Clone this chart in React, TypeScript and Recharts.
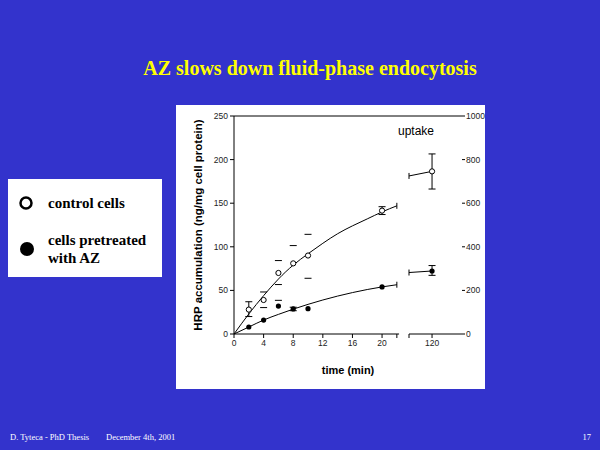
import React from "react";
import {
  ComposedChart,
  ErrorBar,
  Label,
  Line,
  ReferenceLine,
  Scatter,
  XAxis,
  YAxis,
} from "recharts";

// fitted curves, read every 2 min off the picture (left axis units)
const fitTimes = [0, 2, 4, 6, 8, 10, 12, 14, 16, 18, 20, 22];
const controlFit = [0, 23, 44, 63, 79, 92, 104, 115, 124, 132, 140, 147];
const azFit = [0, 8, 16, 22.5, 28.5, 34, 39, 43.5, 47.5, 51, 54, 56.5];

// measured points
const pointTimes = [2, 4, 6, 8, 10, 20];
const controlMeans = [28, 39, 70, 81, 90, 141.5];
const azMeans = [8, 16, 32, 28.7, 29, 54];

// error bars whose stems are visible
const controlBars = [
  { t: 2, v: 28, err: [8, 9] },
  { t: 20, v: 141.5, err: [4.5, 4.5] },
];
const azBars = [{ t: 8, v: 28.7, err: [2, 2] }];

// caps that show without stems
const looseCaps = [
  { t: 4, v: 48.2 },
  { t: 4, v: 30.3 },
  { t: 6, v: 84.2 },
  { t: 6, v: 56.7 },
  { t: 6, v: 38.6 },
  { t: 8, v: 101.4 },
  { t: 10, v: 114.3 },
  { t: 10, v: 63.9 },
];

// the 120 min segment (right axis units)
const breakTimes = [110, 120];
const controlBreak = [725, 746];
const azBreak = [282, 289];
const controlLate = [{ t: 120, v: 746, err: [81, 80] }];
const azLate = [{ t: 120, v: 289, err: [20, 25] }];

const leftTicks = [0, 50, 100, 150, 200, 250];
const rightTicks = [0, 200, 400, 600, 800, 1000];
const timeTicks = [0, 4, 8, 12, 16, 20, 22];

const toRows = (xs: number[], ys: number[]) => xs.map((t, i) => ({ t, v: ys[i] }));

const tickFont = { fontSize: 8.5, fill: "#222", fontFamily: "Liberation Sans" };

const openDot = (p: any) => (
  <circle cx={p.cx} cy={p.cy} r={2.6} fill="#fff" stroke="#000" strokeWidth={1} />
);
const fullDot = (p: any) => <circle cx={p.cx} cy={p.cy} r={2.6} fill="#000" />;
const capShape = (p: any) => (
  <line x1={p.cx - 3.5} x2={p.cx + 3.5} y1={p.cy} y2={p.cy} stroke="#000" strokeWidth={1} />
);
const noShape = () => <g />;

// small vertical bar at one end of a curve (break marks)
const endBar = (which: number) => (p: any) =>
  p.index === which ? (
    <line key={p.index} x1={p.cx} x2={p.cx} y1={p.cy - 3} y2={p.cy + 3} stroke="#000" />
  ) : (
    <g key={p.index} />
  );

export default function App() {
  const lastFit = fitTimes.length - 1;
  return (
    <div
      style={{
        position: "relative",
        width: 600,
        height: 450,
        background: "#3333cc",
        overflow: "hidden",
        fontFamily: "Liberation Serif",
      }}
    >
      <style>{`body{margin:0}`}</style>
      <div
        style={{
          position: "absolute",
          top: 57,
          left: 0,
          width: 620,
          textAlign: "center",
          color: "#ffff00",
          fontWeight: "bold",
          fontSize: 20,
        }}
      >
        AZ slows down fluid-phase endocytosis
      </div>

      {/* legend box */}
      <div
        style={{
          position: "absolute",
          left: 8,
          top: 179,
          width: 154,
          height: 98,
          background: "#fff",
          color: "#000",
          fontWeight: "bold",
          fontSize: 15,
          lineHeight: "18px",
        }}
      >
        <svg width={40} height={98} style={{ position: "absolute", left: 0, top: 0 }}>
          <circle cx={18} cy={24} r={5.5} fill="#fff" stroke="#000" strokeWidth={2.5} />
          <circle cx={19} cy={70} r={7} fill="#000" />
        </svg>
        <div style={{ position: "absolute", left: 40, top: 15 }}>control cells</div>
        <div style={{ position: "absolute", left: 40, top: 52 }}>
          cells pretreated
          <br />
          with AZ
        </div>
      </div>

      {/* chart panel */}
      <div
        style={{
          position: "absolute",
          left: 176,
          top: 105,
          width: 309,
          height: 284,
          background: "#fff",
        }}
      >
        <ComposedChart
          width={309}
          height={284}
          margin={{ top: 11, right: 23, bottom: 25, left: 18 }}
          style={{ position: "absolute", left: 0, top: 0 }}
        >
          <XAxis
            type="number"
            dataKey="t"
            domain={[0, 30.8]}
            ticks={timeTicks}
            interval={0}
            tickFormatter={(v) => (v === 22 ? "" : String(v))}
            axisLine={false}
            tickLine={{ stroke: "#000" }}
            tickSize={4}
            tick={tickFont}
            height={30}
          >
            <Label
              value="time (min)"
              position="insideBottom"
              offset={-10}
              style={{ fontSize: 11, fontWeight: "bold", fill: "#000", fontFamily: "Liberation Sans" }}
            />
          </XAxis>
          <YAxis
            type="number"
            dataKey="v"
            domain={[0, 250]}
            ticks={leftTicks}
            interval={0}
            axisLine={{ stroke: "#000" }}
            tickLine={{ stroke: "#000" }}
            tickSize={4}
            tick={tickFont}
            width={40}
          >
            <Label
              value="HRP accumulation (ng/mg cell protein)"
              angle={-90}
              position="insideLeft"
              offset={4}
              style={{
                fontSize: 11.5,
                fontWeight: "bold",
                fill: "#000",
                fontFamily: "Liberation Sans",
                textAnchor: "middle",
              }}
            />
          </YAxis>
          <ReferenceLine y={250} stroke="#000" />
          <ReferenceLine
            segment={[
              { x: 0, y: 0 },
              { x: 22.3, y: 0 },
            ]}
            stroke="#000"
          />
          <Line
            data={toRows(fitTimes, controlFit)}
            dataKey="v"
            type="natural"
            stroke="#000"
            strokeWidth={1}
            dot={endBar(lastFit)}
            isAnimationActive={false}
          />
          <Line
            data={toRows(fitTimes, azFit)}
            dataKey="v"
            type="natural"
            stroke="#000"
            strokeWidth={1}
            dot={endBar(lastFit)}
            isAnimationActive={false}
          />
          <Scatter data={controlBars} dataKey="v" shape={noShape} isAnimationActive={false}>
            <ErrorBar dataKey="err" direction="y" width={3.5} stroke="#000" strokeWidth={1} />
          </Scatter>
          <Scatter data={azBars} dataKey="v" shape={noShape} isAnimationActive={false}>
            <ErrorBar dataKey="err" direction="y" width={3.5} stroke="#000" strokeWidth={1} />
          </Scatter>
          <Scatter data={looseCaps} dataKey="v" shape={capShape} isAnimationActive={false} />
          <Scatter
            data={toRows(pointTimes, controlMeans)}
            dataKey="v"
            shape={openDot}
            isAnimationActive={false}
          />
          <Scatter
            data={toRows(pointTimes, azMeans)}
            dataKey="v"
            shape={fullDot}
            isAnimationActive={false}
          />
        </ComposedChart>

        <ComposedChart
          width={86}
          height={284}
          margin={{ top: 11, right: 5, bottom: 25, left: 5 }}
          style={{ position: "absolute", left: 228, top: 0 }}
        >
          <XAxis
            type="number"
            dataKey="t"
            domain={[110, 133]}
            ticks={[110, 120]}
            interval={0}
            tickFormatter={(v) => (v === 110 ? "" : String(v))}
            axisLine={{ stroke: "#000" }}
            tickLine={{ stroke: "#000" }}
            tickSize={4}
            tick={tickFont}
            height={30}
          />
          <YAxis
            type="number"
            dataKey="v"
            orientation="right"
            domain={[0, 1000]}
            ticks={rightTicks}
            interval={0}
            axisLine={false}
            tickLine={{ stroke: "#000" }}
            tickSize={3}
            tickMargin={1}
            tick={tickFont}
            width={23}
          />
          <Line
            data={toRows(breakTimes, controlBreak)}
            dataKey="v"
            stroke="#000"
            strokeWidth={1}
            dot={endBar(0)}
            isAnimationActive={false}
          />
          <Line
            data={toRows(breakTimes, azBreak)}
            dataKey="v"
            stroke="#000"
            strokeWidth={1}
            dot={endBar(0)}
            isAnimationActive={false}
          />
          <Scatter data={controlLate} dataKey="v" shape={openDot} isAnimationActive={false}>
            <ErrorBar dataKey="err" direction="y" width={3.5} stroke="#000" strokeWidth={1} />
          </Scatter>
          <Scatter data={azLate} dataKey="v" shape={fullDot} isAnimationActive={false}>
            <ErrorBar dataKey="err" direction="y" width={3.5} stroke="#000" strokeWidth={1} />
          </Scatter>
        </ComposedChart>

        <div
          style={{
            position: "absolute",
            left: 222,
            top: 19,
            fontFamily: "Liberation Sans",
            fontSize: 12,
            color: "#000",
          }}
        >
          uptake
        </div>
      </div>

      {/* footer */}
      <div style={{ position: "absolute", left: 10, top: 432, color: "#fff", fontSize: 8.5 }}>
        D. Tyteca - PhD Thesis
      </div>
      <div style={{ position: "absolute", left: 106, top: 432, color: "#fff", fontSize: 8.5 }}>
        December 4th, 2001
      </div>
      <div style={{ position: "absolute", right: 9, top: 432, color: "#fff", fontSize: 8.5 }}>
        17
      </div>
    </div>
  );
}
